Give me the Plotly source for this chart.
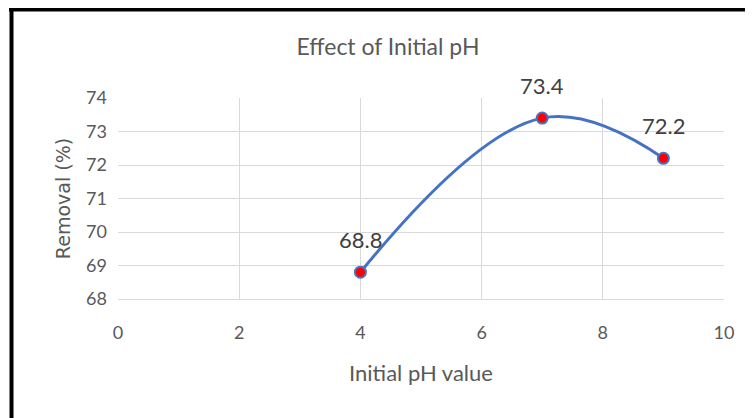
import plotly.graph_objects as go

ph_values = [4, 7, 9]
removal = [68.8, 73.4, 72.2]
label_texts = ["68.8", "73.4", "72.2"]
x_ticks = [0, 2, 4, 6, 8, 10]
y_ticks = [68, 69, 70, 71, 72, 73, 74]

FONT = "Lato, sans-serif"

# the page body has an 8px margin, so the figure starts at (8, 8)
W, H = 745, 410
ml, mr, mt, mb = 110, 29, 90, 119
pw, ph = W - ml - mr, H - mt - mb

def px_x(px):  # figure pixel -> paper x
    return (px - ml) / pw

def px_y(py):  # figure pixel -> paper y
    return (H - mb - py) / ph

fig = go.Figure()
fig.add_trace(go.Scatter(
    x=ph_values, y=removal, mode="lines+markers",
    line=dict(color="#4472C4", width=3, shape="spline", smoothing=1.15),
    marker=dict(color="#FF0000", size=11, line=dict(color="#4472C4", width=2)),
    showlegend=False, cliponaxis=False,
))

for xv, yv, t in zip(ph_values, removal, label_texts):
    fig.add_annotation(x=xv, y=yv, text=t, showarrow=False, yshift=33,
                       font=dict(family=FONT, size=22, color="#404040"))

# outer frame (top + left edges visible in the reference)
fig.add_shape(type="line", xref="paper", yref="paper",
              x0=px_x(1), x1=px_x(760), y0=px_y(1.5), y1=px_y(1.5),
              line=dict(color="black", width=4))
fig.add_shape(type="line", xref="paper", yref="paper",
              x0=px_x(3.5), x1=px_x(3.5), y0=px_y(0), y1=px_y(420),
              line=dict(color="black", width=4))

fig.update_layout(
    width=W, height=H,
    margin=dict(l=ml, r=mr, t=mt, b=mb),
    paper_bgcolor="white", plot_bgcolor="white",
    title=dict(text="Effect of Initial pH", x=380 / W, xanchor="center",
               y=1 - 39 / H, yanchor="middle",
               font=dict(family=FONT, size=23, color="#595959")),
    xaxis=dict(range=[0, 10], tickvals=x_ticks, ticktext=[str(v) for v in x_ticks],
               showgrid=True, gridcolor="#D9D9D9", gridwidth=1,
               zeroline=False, showline=True, linecolor="#D9D9D9", linewidth=1,
               ticks="", ticklabelstandoff=17,
               tickfont=dict(family=FONT, size=18, color="#595959"),
               title=dict(text="Initial pH value", standoff=24,
                          font=dict(family=FONT, size=22, color="#595959"))),
    yaxis=dict(range=[68, 74], tickvals=y_ticks, ticktext=[str(v) for v in y_ticks],
               showgrid=True, gridcolor="#D9D9D9", gridwidth=1,
               zeroline=False, showline=False,
               ticks="", ticklabelstandoff=10,
               tickfont=dict(family=FONT, size=18, color="#595959"),
               title=dict(text="Removal (%)", standoff=10,
                          font=dict(family="DejaVu Sans, sans-serif", size=19, color="#595959"))),
)

fig.write_html("out.html")
